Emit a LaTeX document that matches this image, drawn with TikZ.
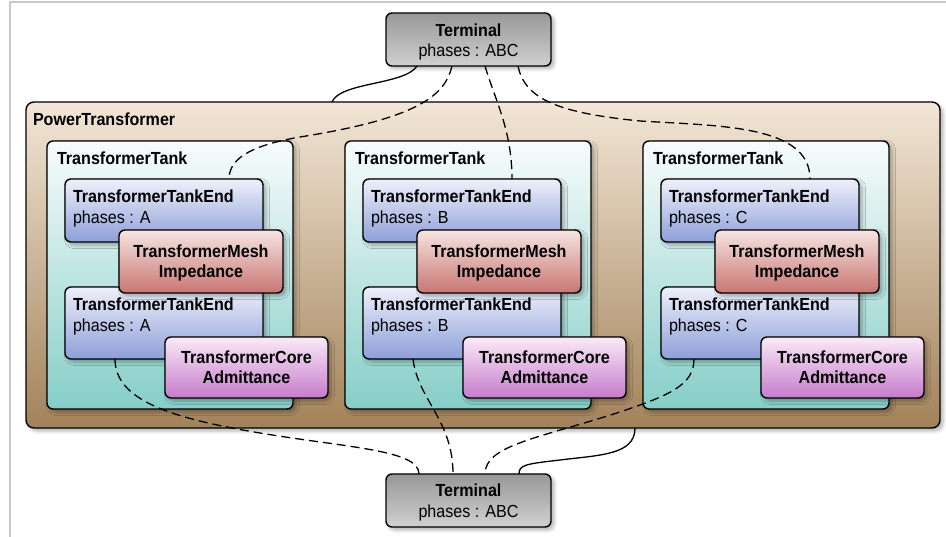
\documentclass[tikz,border=0pt]{standalone}
\usepackage{fontspec}
\setmainfont{Liberation Sans}[FakeStretch=0.92]
\usetikzlibrary{calc,shadows.blur}
\definecolor{ptTop}{HTML}{F2E6D6}
\definecolor{ptBot}{HTML}{A2825A}
\definecolor{tankTop}{HTML}{F8FCFC}
\definecolor{tankBot}{HTML}{86CEC8}
\definecolor{endTop}{HTML}{EEF0FA}
\definecolor{endBot}{HTML}{8E9FD9}
\definecolor{meshTop}{HTML}{F6E4E2}
\definecolor{meshBot}{HTML}{C87672}
\definecolor{coreTop}{HTML}{FAEAF6}
\definecolor{coreBot}{HTML}{C57CCB}
\definecolor{termTop}{HTML}{989898}
\definecolor{termBot}{HTML}{D0D0D0}
\definecolor{frameCol}{HTML}{C8C8C8}
\begin{document}
\begin{tikzpicture}[x=1pt,y=-1pt,
  box/.style={draw=black, line width=1.4pt, rounded corners=6pt, inner sep=0pt, outer sep=0pt,
    blur shadow={shadow xshift=3pt, shadow yshift=-3pt, shadow blur radius=3.5pt, shadow opacity=30}},
  ptbox/.style={box, rounded corners=8pt, top color=ptTop, bottom color=ptBot},
  tankbox/.style={box, top color=tankTop, bottom color=tankBot},
  endbox/.style={box, top color=endTop, bottom color=endBot},
  meshbox/.style={box, top color=meshTop, bottom color=meshBot},
  corebox/.style={box, top color=coreTop, bottom color=coreBot},
  termbox/.style={box, top color=termTop, bottom color=termBot},
  txt/.style={inner sep=0pt, outer sep=0pt, font=\fontsize{17.5}{20}\selectfont, text=black},
  btxt/.style={txt, font=\fontsize{17.5}{20}\selectfont\bfseries},
  link/.style={line width=1.3pt, draw=black},
  dlink/.style={link, dash pattern=on 9pt off 5pt},
]
\useasboundingbox (0,0) rectangle (946,537);
\draw[frameCol, line width=2pt] (10,537) -- (10,2) -- (946,2);

\node[ptbox, minimum width=914pt, minimum height=326pt] (pt) at (483,265) {};
\node[btxt, anchor=base west] (ptl) at (33,125.5) {PowerTransformer};

\foreach \i/\ph [evaluate=\i as \dx using 298*\i] in {0/A,1/B,2/C} {
  \node[tankbox, minimum width=246pt, minimum height=268pt] (tank\i) at (170+\dx,275) {};
  \node[btxt, anchor=base west] (tankl\i) at (57+\dx,164.5) {TransformerTank};
  \node[endbox, minimum width=198pt, minimum height=63pt] (teu\i) at (164+\dx,210.5) {};
  \node[btxt, anchor=base west] (teua\i) at (73+\dx,203) {TransformerTankEnd};
  \node[txt, anchor=base west] (teub\i) at (73+\dx,224) {phases : \ph};
  \node[endbox, minimum width=198pt, minimum height=72pt] (tel\i) at (164+\dx,323) {};
  \node[btxt, anchor=base west] (tela\i) at (73+\dx,311) {TransformerTankEnd};
  \node[txt, anchor=base west] (telb\i) at (73+\dx,332) {phases : \ph};
  \node[meshbox, minimum width=164pt, minimum height=63pt] (mesh\i) at (201+\dx,261.5) {};
  \node[btxt, anchor=base] (mesha\i) at (201+\dx,257.5) {TransformerMesh};
  \node[btxt, anchor=base] (meshb\i) at (201+\dx,277.5) {Impedance};
  \node[corebox, minimum width=163pt, minimum height=61pt] (core\i) at (246.5+\dx,367.5) {};
  \node[btxt, anchor=base] (corea\i) at (246.5+\dx,363.5) {TransformerCore};
  \node[btxt, anchor=base] (coreb\i) at (246.5+\dx,383.5) {Admittance};
}

\node[termbox, minimum width=165pt, minimum height=53pt] (term1) at (468.5,39.5) {};
\node[btxt, anchor=base] (term1a) at (468.5,37) {Terminal};
\node[txt, anchor=base] (term1b) at (468.5,57) {phases : ABC};
\node[termbox, minimum width=165pt, minimum height=53pt] (term2) at (468.5,500.5) {};
\node[btxt, anchor=base] (term2a) at (468.5,496.5) {Terminal};
\node[txt, anchor=base] (term2b) at (468.5,517.5) {phases : ABC};

% top connectors
\draw[link] ($(term1.south west)+(31,0)$) .. controls (405,85) and (340,82) .. ($(pt.north west)+(306,0)$);
\draw[dlink] ($(term1.south west)+(66,0)$) .. controls (445,95) and (420,118) .. (300,137)
   .. controls (260,144) and (229,155) .. ($(teu0.north west)+(164,0)$);
\draw[dlink] ($(term1.south west)+(99,0)$) .. controls (495,100) and (512,130) .. ($(teu1.north west)+(149,0)$);
\draw[dlink] ($(term1.south west)+(132,0)$) .. controls (525,100) and (560,113) .. (640,121)
   .. controls (720,126) and (810,125) .. ($(teu2.north west)+(149,0)$);

% bottom connectors
\draw[dlink] ($(tel0.south west)+(50,0)$) .. controls (115,400) and (170,418) .. (260,433)
   .. controls (350,448) and (419,450) .. ($(term2.north west)+(33,0)$);
\draw[dlink] ($(tel1.south west)+(50,0)$) .. controls (418,400) and (453,420) .. ($(term2.north west)+(67,0)$);
\draw[dlink] ($(tel2.south west)+(33,0)$) .. controls (694,385) and (670,395) .. (620,412)
   .. controls (540,438) and (485,445) .. ($(term2.north west)+(99,0)$);
\draw[link] ($(pt.south west)+(609,0)$) .. controls (635,455) and (600,455) .. (560,460)
   .. controls (525,464) and (519,465) .. ($(term2.north west)+(133,0)$);
\end{tikzpicture}
\end{document}
